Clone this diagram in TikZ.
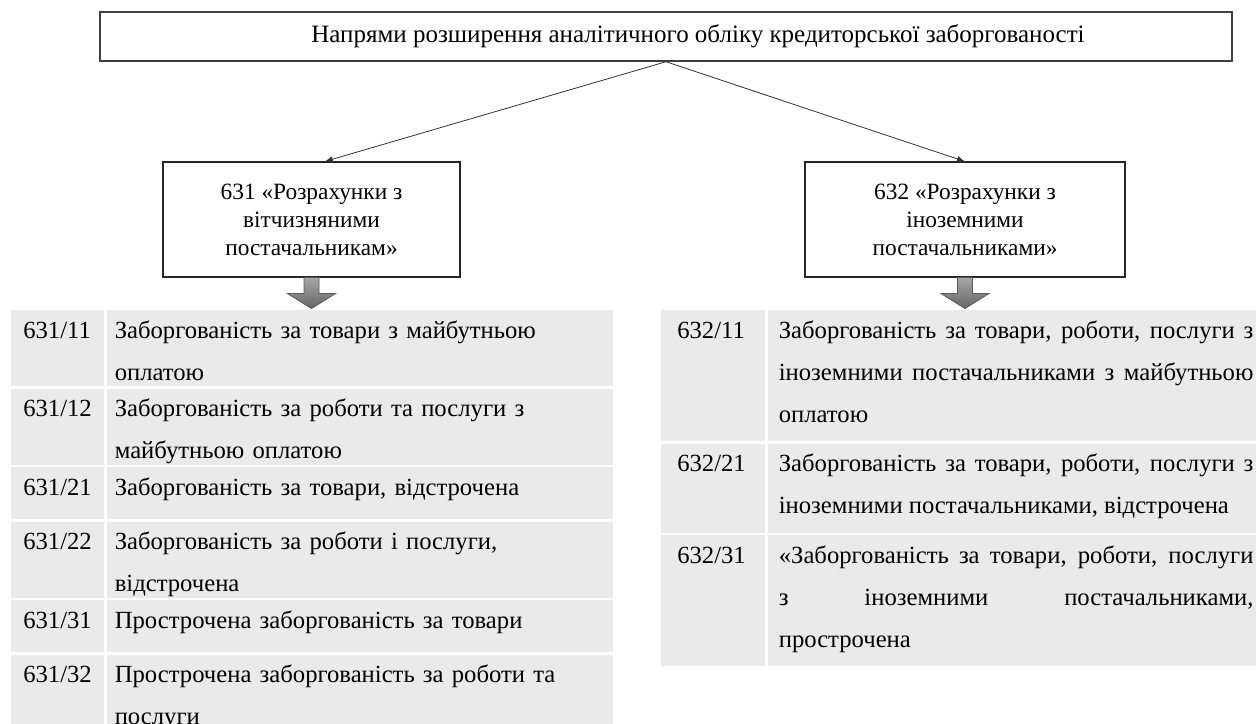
\documentclass[tikz,border=0pt]{standalone}
\usepackage{fontspec}
\setmainfont{LiberationSerif}[Extension=.ttf,UprightFont=*-Regular,BoldFont=*-Bold]
\usetikzlibrary{positioning,arrows.meta,calc}

\definecolor{cellgray}{HTML}{EAEAEA}
\newcommand{\headfont}{\fontsize{18.75pt}{24pt}\selectfont}
\newcommand{\boxfont}{\fontsize{17.5pt}{21pt}\selectfont}
\newcommand{\tabfont}{\fontsize{18.5pt}{31.5pt}\selectfont}

\begin{document}
\begin{tikzpicture}[
		x=0.75pt,y=-0.75pt,
		every node/.style={inner sep=0pt},
		headbox/.style={draw=black!75,line width=1.1pt,minimum width=849pt,minimum height=36.75pt,font=\headfont},
		accbox/.style={draw=black!85,line width=0.8pt,align=center,minimum height=86.25pt,font=\boxfont},
		cell/.style={fill=cellgray,anchor=north west,inner ysep=0pt,font=\tabfont,text height=21pt,text depth=#1},
		lcode/.style={cell=#1,inner xsep=9pt,text width=51.75pt,align=left},
		ltext/.style={cell=#1,inner xsep=6pt,text width=367.5pt,align=left},
		rcode/.style={cell=#1,inner xsep=12pt,text width=54pt,align=left},
		rtext/.style={cell=#1,inner xsep=8.25pt,text width=356pt,align=justify},
		link/.style={draw=black!80,line width=0.6pt,-{Latex[length=6pt,width=4.5pt]}},
		blockarrow/.style={draw=black!65,line width=0.6pt,top color=black!35,bottom color=black!60}
	]
	\useasboundingbox (0,0) rectangle (1256,724);

	\node[headbox] (goal) at (666,36.5)
	{\hspace*{48pt}Напрями розширення аналітичного обліку кредиторської заборгованості};

	\node[accbox,minimum width=222.75pt] (c631) at (311.5,219.5)
	{631 «Розрахунки з\\вітчизняними\\постачальникам»};

	\node[accbox,minimum width=240pt] (c632) at (965,219.5)
	{632 «Розрахунки з\\іноземними\\постачальниками»};

	\draw[link] (goal.south)--([xshift=10pt]c631.north);
	\draw[link] (goal.south)--(c632.north);

	% block arrows down to the tables
	\foreach \acc in {c631,c632}
	\draw[blockarrow] ($(\acc.south)+(-7.5,0)$) -- ++(0,16) -- ++(-16.5,0)
	-- ($(\acc.south)+(0,31)$) -- ($(\acc.south)+(24,16)$) -- ++(-16.5,0)
	-- ($(\acc.south)+(7.5,0)$) -- cycle;

	% 631
	\node[lcode=36pt] (k11) at (11,310) {631/11};
	\node[ltext=36pt] (t11) at ([xshift=1.5pt]k11.north east)
	{Заборгованість за товари з майбутньою\\оплатою};

	\node[lcode=36pt] (k12) at ([yshift=-1.5pt]k11.south west) {631/12};
	\node[ltext=36pt] (t12) at ([xshift=1.5pt]k12.north east)
	{Заборгованість за роботи та послуги з\\майбутньою оплатою};

	\node[lcode=18pt] (k21) at ([yshift=-1.5pt]k12.south west) {631/21};
	\node[ltext=18pt] (t21) at ([xshift=1.5pt]k21.north east)
	{Заборгованість за товари, відстрочена};

	\node[lcode=36pt] (k22) at ([yshift=-1.5pt]k21.south west) {631/22};
	\node[ltext=36pt] (t22) at ([xshift=1.5pt]k22.north east)
	{Заборгованість за роботи і послуги,\\відстрочена};

	\node[lcode=18pt] (k31) at ([yshift=-1.5pt]k22.south west) {631/31};
	\node[ltext=18pt] (t31) at ([xshift=1.5pt]k31.north east)
	{Прострочена заборгованість за товари};

	\node[lcode=36pt] (k32) at ([yshift=-1.5pt]k31.south west) {631/32};
	\node[ltext=36pt] (t32) at ([xshift=1.5pt]k32.north east)
	{Прострочена заборгованість за роботи та\\послуги};

	% 632
	\node[rcode=77.25pt] (f11) at (661,310) {632/11};
	\node[rtext=77.25pt] (g11) at ([xshift=1.5pt]f11.north east)
	{Заборгованість за товари, роботи, послуги з\linebreak
		іноземними постачальниками з майбутньою\linebreak оплатою};

	\node[rcode=45.75pt] (f21) at ([yshift=-1.5pt]f11.south west) {632/21};
	\node[rtext=45.75pt] (g21) at ([xshift=1.5pt]f21.north east)
	{Заборгованість за товари, роботи, послуги з\linebreak
		іноземними постачальниками, відстрочена};

	\node[rcode=77.25pt] (f31) at ([yshift=-1.5pt]f21.south west) {632/31};
	\node[rtext=77.25pt] (g31) at ([xshift=1.5pt]f31.north east)
	{«Заборгованість за товари, роботи, послуги\linebreak
		з іноземними постачальниками,\linebreak прострочена};

\end{tikzpicture}
\end{document}
